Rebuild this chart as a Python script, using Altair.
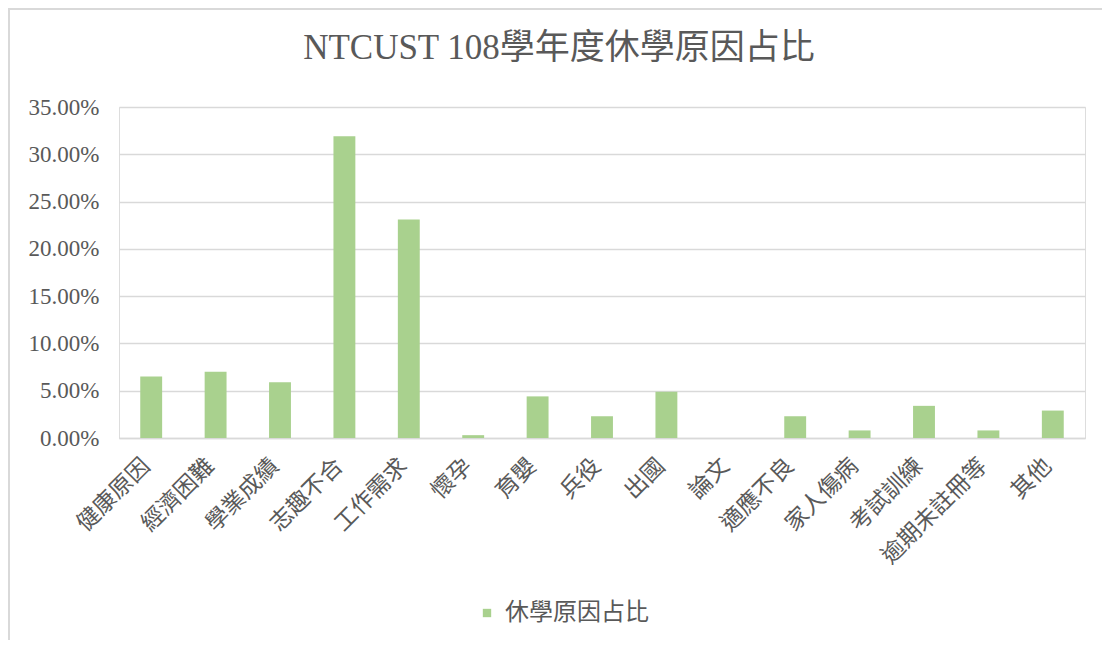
import altair as alt
import pandas as pd

categories = ["健康原因", "經濟困難", "學業成績", "志趣不合", "工作需求", "懷孕", "育嬰",
              "兵役", "出國", "論文", "適應不良", "家人傷病", "考試訓練", "逾期未註冊等", "其他"]
shares = [0.065, 0.070, 0.059, 0.319, 0.231, 0.003, 0.044,
          0.023, 0.049, 0.000, 0.023, 0.008, 0.034, 0.008, 0.029]
series_name = "休學原因占比"
y_ticks = [0, 0.05, 0.10, 0.15, 0.20, 0.25, 0.30, 0.35]
title_text = "NTCUST 108學年度休學原因占比"

df = pd.DataFrame({"reason": categories, "share": shares, "series": [series_name] * len(categories)})

TEXT = "#595959"
GRID = "#D9D9D9"
FONT = "Liberation Serif, Times New Roman, Noto Sans CJK TC"
CJK = "Noto Sans CJK TC"

bars = alt.Chart(df).mark_bar(color="#A9D18E").encode(
    x=alt.X("reason:N", sort=categories,
            scale=alt.Scale(paddingInner=0.66, paddingOuter=0.33),
            axis=alt.Axis(title=None, labelAngle=-45, labelAlign="right", labelBaseline="middle",
                          labelFont=CJK, labelFontSize=23, labelColor=TEXT, labelPadding=24,
                          labelOffset=-5,
                          ticks=False, domain=True, domainColor=GRID, domainWidth=1.5,
                          grid=False, labelOverlap=False)),
    y=alt.Y("share:Q", scale=alt.Scale(domain=[0, 0.35], nice=False),
            axis=alt.Axis(title=None, values=y_ticks, format=".2%", labelFont=FONT,
                          labelFontSize=23, labelColor=TEXT, labelPadding=20,
                          ticks=False, domain=False, grid=True, gridColor=GRID, gridWidth=1.5)),
    color=alt.Color("series:N", scale=alt.Scale(range=["#A9D18E"]),
                    legend=alt.Legend(title=None, orient="none", legendX=356, legendY=494,
                                      symbolType="square", symbolSize=70, symbolStrokeWidth=0,
                                      labelFont=CJK, labelFontSize=24, labelColor=TEXT,
                                      labelOffset=6)),
)

border_df = pd.DataFrame({"k": [0]})
top_border = alt.Chart(border_df).mark_rule(color=GRID, strokeWidth=2).encode(
    x=alt.value(-111), x2=alt.value(990), y=alt.value(-98))
left_border = alt.Chart(border_df).mark_rule(color=GRID, strokeWidth=2).encode(
    x=alt.value(-110), y=alt.value(-99), y2=alt.value(540))

chart = alt.layer(top_border, left_border, bars).properties(
    width=966, height=331,
    title=alt.Title(title_text, font=FONT, fontSize=35, fontWeight="normal", color=TEXT,
                    anchor="middle", frame="group", dx=-43, offset=-59),
    autosize=alt.AutoSizeParams(type="none"),
    padding={"left": 111, "top": 99, "right": 17, "bottom": 202},
).configure_view(stroke=None).configure(background="white")

chart.save("out.html", embed_options={"renderer": "svg", "actions": False})
